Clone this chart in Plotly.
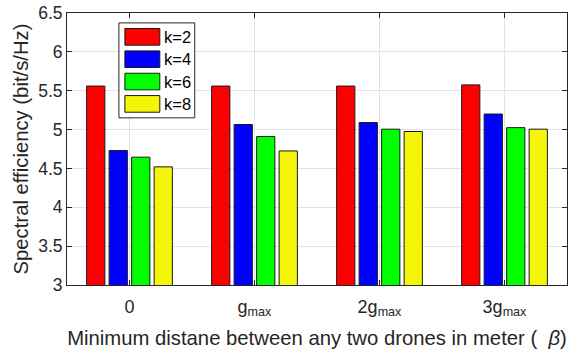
import plotly.graph_objects as go

categories = ["0", "g<sub>max</sub>", "2g<sub>max</sub>", "3g<sub>max</sub>"]
series_names = ["k=2", "k=4", "k=6", "k=8"]
k2 = [5.56, 5.56, 5.56, 5.575]
k4 = [4.73, 5.065, 5.09, 5.20]
k6 = [4.645, 4.91, 5.005, 5.025]
k8 = [4.52, 4.725, 4.975, 5.005]
series_values = [k2, k4, k6, k8]
colors = ["#FF0000", "#0000FF", "#00FF00", "#F5F50A"]
y_ticks = [3, 3.5, 4, 4.5, 5, 5.5, 6, 6.5]
y_tick_text = ["3", "3.5", "4", "4.5", "5", "5.5", "6", "6.5"]

W, H = 571, 354
ML, MR, MT, MB = 67, 3, 10, 69
FONT = "Liberation Sans, Arial, sans-serif"
TXT = "#262626"

fig = go.Figure()
for name, vals, col in zip(series_names, series_values, colors):
    fig.add_trace(go.Bar(
        x=list(range(len(categories))), y=vals, name=name,
        marker=dict(color=col, line=dict(color="#1a1a1a", width=1)),
        showlegend=False,
    ))

# manual MATLAB-like legend (paper coordinates)
pw, ph = W - ML - MR, H - MT - MB
def px2paper(x, y):
    return (x - ML) / pw, 1 - (y - MT) / ph

shapes = []
annotations = []
bx0, by0 = px2paper(119, 20)
bx1, by1 = px2paper(195, 116)
shapes.append(dict(type="rect", xref="paper", yref="paper", x0=bx0, y0=by0, x1=bx1, y1=by1,
                   line=dict(color="#262626", width=1), fillcolor="white", layer="above"))
for i, (name, col) in enumerate(zip(series_names, colors)):
    top = 25.7 + i * 22.6
    sx0, sy0 = px2paper(125, top)
    sx1, sy1 = px2paper(160, top + 16.8)
    shapes.append(dict(type="rect", xref="paper", yref="paper", x0=sx0, y0=sy0, x1=sx1, y1=sy1,
                       line=dict(color="#1a1a1a", width=1), fillcolor=col, layer="above"))
    tx, ty = px2paper(162, top + 8.4)
    annotations.append(dict(xref="paper", yref="paper", x=tx, y=ty, text=name, showarrow=False,
                            xanchor="left", yanchor="middle", font=dict(family=FONT, size=16.5, color="#000")))

fig.update_layout(
    width=W, height=H,
    margin=dict(l=ML, r=MR, t=MT, b=MB, pad=0),
    plot_bgcolor="white", paper_bgcolor="white",
    barmode="group", bargap=0.28, bargroupgap=0.19,
    font=dict(family=FONT, size=18, color=TXT),
    shapes=shapes, annotations=annotations,
    xaxis=dict(
        range=[-0.5, 3.5], tickmode="array", tickvals=list(range(len(categories))), ticktext=categories,
        showgrid=True, gridcolor="#e3e3e3", gridwidth=1,
        ticks="inside", ticklen=5, tickcolor=TXT, mirror="ticks",
        showline=True, linecolor=TXT, linewidth=1, zeroline=False,
        tickfont=dict(family=FONT, size=18, color=TXT), ticklabelstandoff=5,
        title=dict(text="Minimum distane between any two drones in meter (  <i>β</i>)",
                   font=dict(family=FONT, size=20.3, color=TXT), standoff=12),
    ),
    yaxis=dict(
        range=[3, 6.5], tickmode="array", tickvals=y_ticks, ticktext=y_tick_text,
        showgrid=True, gridcolor="#e3e3e3", gridwidth=1,
        ticks="inside", ticklen=5, tickcolor=TXT, mirror="ticks",
        showline=True, linecolor=TXT, linewidth=1, zeroline=False,
        tickfont=dict(family=FONT, size=17.5, color=TXT),
        title=dict(text="Spectral efficiency (bit/s/Hz)",
                   font=dict(family=FONT, size=20.3, color=TXT), standoff=4),
    ),
)

fig.write_html("out.html")
